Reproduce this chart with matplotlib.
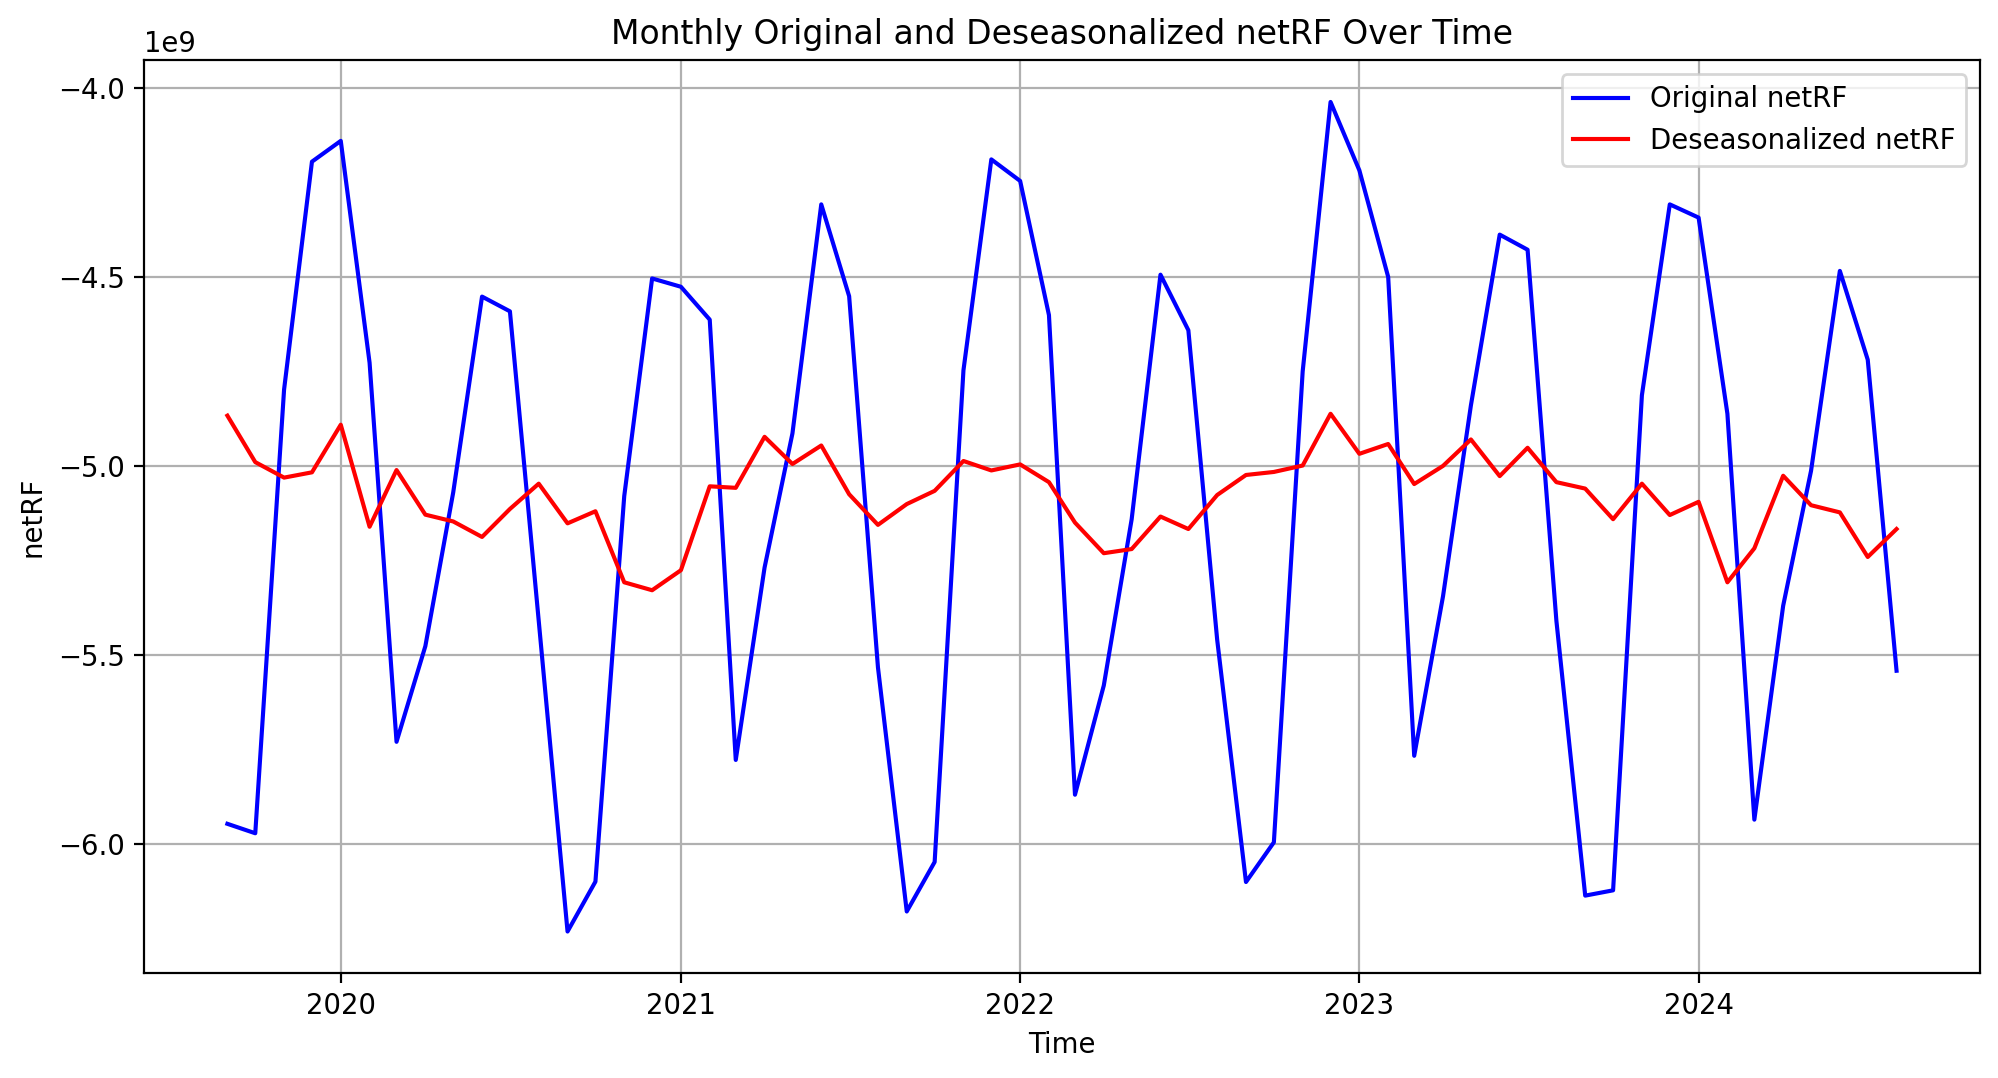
import numpy as np
import pandas as pd
import matplotlib
matplotlib.use("Agg")
import matplotlib.pyplot as plt

# monthly values, in units of 1e9
months = pd.date_range("2019-09-01", "2024-08-01", freq="MS")

original_netrf = [
    -5.947, -5.972, -4.798, -4.195,                      # 2019 Sep-Dec
    -4.140, -4.727, -5.730, -5.477, -5.070, -4.552,
    -4.591, -5.410, -6.232, -6.100, -5.080, -4.504,      # 2020
    -4.526, -4.613, -5.778, -5.269, -4.914, -4.308,
    -4.551, -5.533, -6.179, -6.048, -4.747, -4.189,      # 2021
    -4.246, -4.601, -5.870, -5.581, -5.141, -4.494,
    -4.641, -5.460, -6.101, -5.996, -4.750, -4.037,      # 2022
    -4.218, -4.500, -5.767, -5.345, -4.840, -4.388,
    -4.428, -5.410, -6.137, -6.123, -4.813, -4.308,      # 2023
    -4.343, -4.862, -5.936, -5.370, -5.013, -4.484,
    -4.719, -5.542,                                      # 2024 Jan-Aug
]

deseasonalized_netrf = [
    -4.867, -4.990, -5.031, -5.017,
    -4.891, -5.161, -5.011, -5.129, -5.147, -5.188,
    -5.114, -5.047, -5.152, -5.120, -5.308, -5.329,
    -5.276, -5.054, -5.058, -4.923, -4.995, -4.946,
    -5.075, -5.156, -5.101, -5.066, -4.987, -5.012,
    -4.996, -5.043, -5.150, -5.231, -5.220, -5.134,
    -5.167, -5.077, -5.024, -5.016, -4.999, -4.862,
    -4.968, -4.942, -5.048, -5.000, -4.930, -5.027,
    -4.952, -5.043, -5.060, -5.141, -5.047, -5.130,
    -5.095, -5.308, -5.218, -5.026, -5.104, -5.123,
    -5.241, -5.167,
]

orig = np.array(original_netrf) * 1e9
deseas = np.array(deseasonalized_netrf) * 1e9

DPI = 198
fig = plt.figure(figsize=(1999 / DPI, 1078 / DPI), dpi=DPI)
ax = fig.add_axes([0.072, 0.0974, 0.9185, 0.8465])

ax.plot(months, orig, label="Original netRF", color="blue")
ax.plot(months, deseas, label="Deseasonalized netRF", color="red")
ax.set_title("Monthly Original and Deseasonalized netRF Over Time")
ax.set_xlabel("Time")
ax.set_ylabel("netRF")
ax.legend(loc="upper right")
ax.grid(True)

fig.savefig("out.png", dpi=DPI)
